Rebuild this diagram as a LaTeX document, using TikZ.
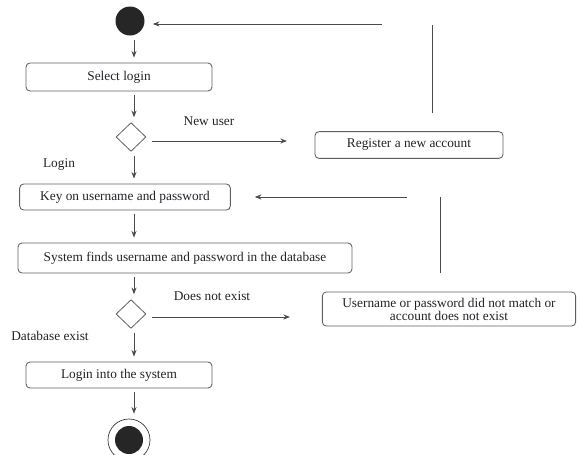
\documentclass[tikz,border=0pt]{standalone}
\usepackage{fontspec}
\setmainfont{Liberation Serif}
\usetikzlibrary{shapes.geometric,arrows.meta}
\definecolor{linegray}{RGB}{75,75,75}
\definecolor{boxgray}{RGB}{95,95,95}
\definecolor{inkdark}{RGB}{35,35,40}
\tikzset{
  actbox/.style={draw=boxgray, rounded corners=3pt, line width=0.65pt, inner sep=0pt, text=inkdark, font=\fontsize{10}{10}\selectfont},
  choice/.style={draw=boxgray, diamond, line width=0.6pt, inner sep=0pt, minimum width=22.5pt, minimum height=21.5pt},
  flow/.style={draw=linegray, line width=0.75pt, -{Stealth[length=5pt,width=3.8pt]}},
  step down/.style={flow, shorten <=3pt, shorten >=3.75pt},
  plain/.style={draw=linegray, line width=0.75pt},
  guard/.style={text=inkdark, font=\fontsize{10}{10}\selectfont, inner sep=0pt}
}
\begin{document}
\begin{tikzpicture}[x=0.75pt,y=-0.75pt]
                \useasboundingbox (0,0) rectangle (579,454);
                % left column
                \node [fill=black!85, circle, minimum size=21.75pt, inner sep=0pt] (start) at (130,21) {};
                \node [actbox, minimum width=139.5pt, minimum height=21pt] (selectlogin) at (119,77) {Select login};
                \node [choice] (newuser) at (131,137) {};
                \node [actbox, minimum width=158pt, minimum height=19.5pt] (keyon) at (125,197) {Key on username and password};
                \node [actbox, minimum width=250.5pt, minimum height=22.5pt] (finds) at (185,258) {System finds username and password in the database};
                \node [choice] (exists) at (131,314) {};
                \node [actbox, minimum width=139.5pt, minimum height=19.5pt] (loginsys) at (119,375) {Login into the system};
                \node [draw=black!80, circle, line width=0.5pt, minimum size=31.5pt, inner sep=0pt] (finish) at (129,440) {};
                \node [fill=black!85, circle, minimum size=21pt, inner sep=0pt] at (finish) {};
                % right column
                \node [actbox, minimum width=141pt, minimum height=20pt] (register) at (409,145) {Register a new account};
                \node [actbox, minimum width=190pt, minimum height=25.5pt, align=center, font=\fontsize{10}{9.8}\selectfont] (nomatch) at (449,309) {Username or password did not match or\\account does not exist};
                % guards
                \node [guard] (newuserlbl) at (209,121) {New user};
                \node [guard] (loginlbl) at (59,165) {Login};
                \node [guard] (notexistlbl) at (212,296) {Does not exist};
                \node [guard] (dbexistlbl) at (50,336) {Database exist};
                % free ends
                \coordinate (col) at (134,0);
                \coordinate (backtop) at (382,24);
                \coordinate (uptop) at (432,25);
                \coordinate (uplow) at (432,113);
                \coordinate (backkey) at (407,197);
                \coordinate (upkey) at (440,197);
                \coordinate (upkeylow) at (440,273);
                \coordinate (newuserend) at (287,141);
                \coordinate (notexistend) at (290,317);
                % vertical flow
                \draw [step down] (start.south -| col) -- (selectlogin.north -| col);
                \draw [step down] (selectlogin.south -| col) -- (newuser.north -| col);
                \draw [step down] (newuser.south -| col) -- (keyon.north -| col);
                \draw [step down] (keyon.south -| col) -- (finds.north -| col);
                \draw [step down] (finds.south -| col) -- (exists.north -| col);
                \draw [step down] (exists.south -| col) -- (loginsys.north -| col);
                \draw [step down] (loginsys.south -| col) -- (finish.north -| col);
                % branches
                \draw [flow] ([xshift=4pt]newuser.east |- newuserend) -- (newuserend);
                \draw [flow] ([xshift=4pt]exists.east |- notexistend) -- (notexistend);
                \draw [flow] (backtop) -- ([xshift=6pt]start.east |- backtop);
                \draw [plain] (uptop) -- (uplow);
                \draw [flow] (backkey) -- ([xshift=18pt]keyon.east |- backkey);
                \draw [plain] (upkey) -- (upkeylow);
\end{tikzpicture}
\end{document}
